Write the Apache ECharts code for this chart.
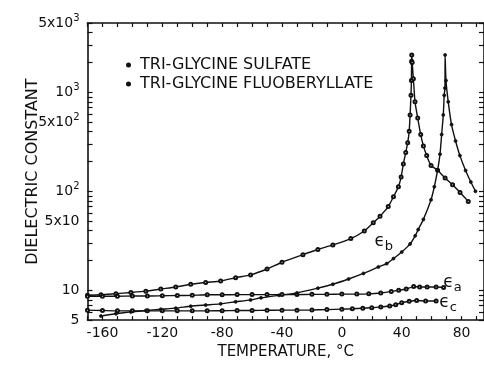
<!DOCTYPE html>
<html>
<head>
<meta charset="utf-8">
<script src="https://cdn.jsdelivr.net/npm/echarts@6/dist/echarts.min.js"></script>
<style>
  html, body { margin: 0; padding: 0; background: #fff; }
  #chart { width: 484px; height: 365px; }
</style>
</head>
<body>
<div id="chart"></div>
<script>
// Tri-glycine sulfate, b axis (temperature °C / dielectric constant)
const tgsBTemp = [-170, -161, -151, -141, -131, -121, -111, -101, -91, -81, -71, -61, -50, -40, -26, -16, -6, 6, 15, 21, 25.5, 31, 34.5, 37.8, 39.6, 41.1, 42.7, 44, 45, 45.6, 46.2, 46.5, 46.6, 46.7, 47.0, 47.8, 48.9, 50.7, 52.7, 54.5, 56.7, 59.6, 64, 69, 74, 79, 84.5];
const tgsBVal  = [8.9, 9.0, 9.25, 9.5, 9.8, 10.3, 10.8, 11.5, 12.0, 12.4, 13.4, 14.3, 16.4, 19.2, 22.9, 25.8, 28.7, 33.3, 39.7, 48, 56, 70, 88, 111, 139, 189, 246, 309, 404, 590, 930, 1310, 2050, 2380, 2000, 1370, 800, 548, 374, 287, 229, 182, 163, 136, 116, 97, 79];

// Tri-glycine sulfate, a axis
const tgsATemp = [-170, -160, -150, -140, -130, -120, -110, -100, -90, -80, -70, -60, -50, -40, -30, -20, -10, 0, 10, 18, 26, 33, 38, 43, 48, 52, 57, 63, 68];
const tgsAVal  = [8.7, 8.7, 8.7, 8.75, 8.75, 8.8, 8.85, 8.9, 9.0, 9.0, 9.05, 9.05, 9.05, 9.05, 9.05, 9.1, 9.1, 9.15, 9.15, 9.2, 9.4, 9.75, 10.0, 10.3, 10.9, 10.8, 10.8, 10.8, 10.7];

// Tri-glycine sulfate, c axis
const tgsCTemp = [-170, -160, -150, -140, -130, -120, -110, -100, -90, -80, -70, -60, -50, -40, -30, -20, -10, 0, 7, 14, 20, 26, 32, 36, 40, 45, 50, 56, 63];
const tgsCVal  = [6.3, 6.25, 6.2, 6.2, 6.2, 6.2, 6.2, 6.2, 6.2, 6.22, 6.25, 6.25, 6.28, 6.3, 6.3, 6.33, 6.38, 6.45, 6.5, 6.6, 6.67, 6.8, 6.93, 7.15, 7.5, 7.75, 7.9, 7.8, 7.8];

// Tri-glycine fluoberyllate, b axis
const tgfbBTemp = [-161, -151, -141, -131, -121, -111, -101, -91, -81, -71, -61, -54, -42, -30, -16, -6, 4.5, 14.4, 24.4, 30, 34.5, 40, 45.6, 49, 51, 54.5, 59.6, 61.8, 64, 65.6, 66.7, 67.8, 68.4, 68.9, 69.0, 69.6, 71.1, 73.3, 76, 78.9, 82.7, 86.2, 89.3];
const tgfbBVal  = [5.5, 5.8, 6.05, 6.25, 6.43, 6.6, 6.9, 7.1, 7.3, 7.65, 8.0, 8.4, 8.9, 9.4, 10.5, 11.5, 13.0, 14.8, 17.2, 18.6, 20.9, 24.3, 29.4, 35.5, 41, 52, 82, 111, 163, 237, 374, 590, 930, 1100, 2380, 1310, 800, 471, 322, 229, 162, 124, 100];

// Axis ticks and labels
const xTickValues = [-170, -160, -150, -140, -130, -120, -110, -100, -90, -80, -70, -60, -50, -40, -30, -20, -10, 0, 10, 20, 30, 40, 50, 60, 70, 80, 90];
const xLabelValues = [-160, -120, -80, -40, 0, 40, 80];
const yTickValues = [5, 6, 7, 8, 9, 10, 20, 30, 40, 50, 60, 70, 80, 90, 100, 200, 300, 400, 500, 600, 700, 800, 900, 1000, 2000, 3000, 4000, 5000];
const yLabelValues = [5, 10, 50, 100, 500, 1000, 5000];
const yLabelText = { 5: '5', 10: '10', 50: '5x10', 100: '10{s|2}', 500: '5x10{s|2}', 1000: '10{s|3}', 5000: '5x10{s|3}' };

const SULFATE = 'TRI-GLYCINE SULFATE';
const FLUOBERYLLATE = 'TRI-GLYCINE FLUOBERYLLATE';

const zip = (xs, ys) => xs.map((x, i) => [x, ys[i]]);

const INK = '#111';
const FONT = 'DejaVu Sans';

const epsLabel = (sub) => ({
  show: true,
  formatter: '{e|ϵ}{s|' + sub + '}',
  rich: {
    e: { fontFamily: FONT, fontSize: 17, color: INK },
    s: { fontFamily: FONT, fontSize: 13, color: INK, padding: [10, 0, 0, 0] }
  }
});

const curve = (name, data, filled, tagCoord, tagSub) => ({
  name: name,
  type: 'line',
  data: data,
  symbol: filled ? 'circle' : 'emptyCircle',
  symbolSize: 3,
  showSymbol: true,
  itemStyle: { color: INK, borderColor: INK, borderWidth: 0.8 },
  lineStyle: { color: INK, width: 1.4 },
  smooth: 0.2,
  animation: false,
  z: 3,
  markPoint: tagCoord ? {
    symbol: 'circle',
    symbolSize: 0,
    label: epsLabel(tagSub),
    data: [{ coord: tagCoord }],
    animation: false
  } : undefined
});

const axisLine = { show: true, onZero: false, lineStyle: { color: INK, width: 1.6 } };

const chart = echarts.init(document.getElementById('chart'), null, { renderer: 'canvas' });

chart.setOption({
  backgroundColor: '#fff',
  animation: false,
  grid: { left: 87.5, top: 23, width: 397.5, height: 303 },
  legend: {
    left: 121,
    top: 52,
    orient: 'vertical',
    itemWidth: 5,
    itemHeight: 5,
    itemGap: 3,
    icon: 'circle',
    itemStyle: { color: INK, borderWidth: 0 },
    textStyle: { fontFamily: FONT, fontSize: 16, color: INK, padding: [0, 0, 0, 4] },
    data: [SULFATE, FLUOBERYLLATE],
    selectedMode: false
  },
  xAxis: [{
    type: 'value',
    min: -170,
    max: 95,
    position: 'bottom',
    name: 'TEMPERATURE, °C',
    nameLocation: 'middle',
    nameGap: 24,
    nameTextStyle: { fontFamily: FONT, fontSize: 15, color: INK },
    axisLine: axisLine,
    axisTick: { show: true, inside: true, length: 4, customValues: xTickValues, lineStyle: { color: INK, width: 1.2 } },
    axisLabel: { show: true, customValues: xLabelValues, fontFamily: FONT, fontSize: 14, color: INK, margin: 6 },
    splitLine: { show: false }
  }, {
    type: 'value',
    min: -170,
    max: 95,
    position: 'top',
    axisLine: axisLine,
    axisTick: { show: true, inside: true, length: 4, customValues: xTickValues, lineStyle: { color: INK, width: 1.2 } },
    axisLabel: { show: false },
    splitLine: { show: false }
  }],
  yAxis: [{
    type: 'log',
    logBase: 10,
    min: 5,
    max: 5000,
    position: 'left',
    name: 'DIELECTRIC CONSTANT',
    nameLocation: 'middle',
    nameGap: 47,
    nameRotate: 90,
    nameMoveOverlap: false,
    nameTextStyle: { fontFamily: FONT, fontSize: 16, color: INK },
    axisLine: axisLine,
    axisTick: { show: true, inside: true, length: 5, customValues: yTickValues, lineStyle: { color: INK, width: 1.2 } },
    axisLabel: {
      show: true,
      customValues: yLabelValues,
      formatter: (v) => yLabelText[Math.round(v)] || '',
      fontFamily: FONT,
      fontSize: 14,
      color: INK,
      margin: 8,
      rich: { s: { fontFamily: FONT, fontSize: 10, color: INK, padding: [0, 0, 9, 0] } }
    },
    splitLine: { show: false }
  }, {
    type: 'log',
    logBase: 10,
    min: 5,
    max: 5000,
    position: 'right',
    axisLine: axisLine,
    axisTick: { show: true, inside: true, length: 5, customValues: yTickValues, lineStyle: { color: INK, width: 1.2 } },
    axisLabel: { show: false },
    splitLine: { show: false }
  }],
  series: [
    curve(SULFATE, zip(tgsBTemp, tgsBVal), false, [28, 31], 'b'),
    curve(SULFATE, zip(tgsATemp, tgsAVal), false, [74, 11.9], 'a'),
    curve(SULFATE, zip(tgsCTemp, tgsCVal), false, [71, 7.5], 'c'),
    curve(FLUOBERYLLATE, zip(tgfbBTemp, tgfbBVal), true)
  ]
});
</script>
</body>
</html>
